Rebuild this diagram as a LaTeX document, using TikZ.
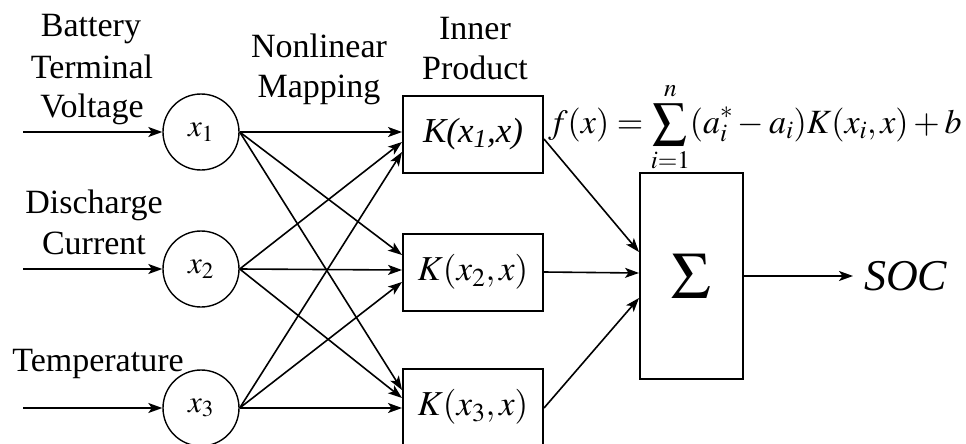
\documentclass[tikz,border=0pt]{standalone}
\usepackage{mathptmx}
\usepackage{fontspec}
\setmainfont{Liberation Serif}
\usetikzlibrary{arrows.meta,calc}
\begin{document}
\begin{tikzpicture}[x=1pt,y=-1pt,
  arr/.style={line width=1.6pt,-{Stealth[length=14pt,width=10pt,inset=3.5pt]}},
  neuron/.style={circle,draw,line width=1.4pt,minimum size=76pt,inner sep=0pt,font=\fontsize{31}{34}\selectfont},
  kbox/.style={draw,line width=2pt,minimum width=140pt,minimum height=77pt,inner sep=0pt,font=\fontsize{35}{40}\selectfont},
  sumbox/.style={draw,line width=2pt,minimum width=103pt,minimum height=206pt,inner sep=0pt,font=\fontsize{66}{70}\selectfont},
  lbl/.style={anchor=base,inner sep=0pt,font=\fontsize{34}{38}\selectfont}]
\useasboundingbox (0,0) rectangle (966,444);

% labels
\node[lbl] (l1) at (91,37) {Battery};
\node[lbl] (l2) at (92,78) {Terminal};
\node[lbl] (l3) at (92,117) {Voltage};
\node[lbl] (l4) at (94,213) {Discharge};
\node[lbl] (l5) at (94,254) {Current};
\node[lbl] (l6) at (98,371) {Temperature};
\node[lbl] (l7) at (319,57) {Nonlinear};
\node[lbl] (l8) at (319,97) {Mapping};
\node[lbl] (l9) at (475,40) {Inner};
\node[lbl] (l10) at (475,80) {Product};

% input neurons
\node[neuron] (x1) at (201,132) {$x_1$};
\node[neuron] (x2) at (201,269) {$x_2$};
\node[neuron] (x3) at (201,408) {$x_3$};

% kernel boxes
\node[kbox] (K1) at (473,134) {\itshape K(x\textsubscript{1},x)};
\node[kbox] (K2) at (473,272) {$K(x_2,x)$};
\node[kbox] (K3) at (473,407) {$K(x_3,x)$};

% summation box
\node[sumbox] (S) at (691.5,276) {$\Sigma$};

% output
\node[anchor=west,inner sep=0pt,font=\fontsize{44}{50}\selectfont\itshape] (soc) at (864,276) {SOC};

% formula
\node[anchor=base west,inner sep=0pt,font=\fontsize{34}{40}\selectfont] (f) at (548,133)
  {$\displaystyle f(x)=\sum_{i=1}^{n}(a_i^{*}-a_i)K(x_i,x)+b$};

% inputs
\coordinate (in1) at (23,132);
\coordinate (in2) at (23,269);
\coordinate (in3) at (23,408);
\draw[arr] (in1) -- (x1.west);
\draw[arr] (in2) -- (x2.west);
\draw[arr] (in3) -- (x3.west);

% nonlinear mapping
\draw[arr] (x1.east) -- ($(K1.west)+(0,-2)$);
\draw[arr] (x1.east) -- ($(K2.west)+(0,-17)$);
\draw[arr] (x1.east) -- ($(K3.west)+(0,-17)$);
\draw[arr] (x2.east) -- ($(K1.west)+(0,8)$);
\draw[arr] (x2.east) -- ($(K2.west)+(0,-2)$);
\draw[arr] (x2.east) -- ($(K3.west)+(0,-9)$);
\draw[arr] (x3.east) -- ($(K1.west)+(0,18)$);
\draw[arr] (x3.east) -- ($(K2.west)+(0,10)$);
\draw[arr] (x3.east) -- ($(K3.west)+(0,1)$);

% to summation
\draw[arr] ($(K1.east)+(0,5)$) -- ($(S.west)+(0,-24)$);
\draw[arr] (K2.east) -- ($(S.west)+(0,-3)$);
\draw[arr] ($(K3.east)+(0,1)$) -- ($(S.west)+(0,22)$);

% output arrow
\draw[arr] (S.east) -- ($(soc.west)+(-11,0)$);
\end{tikzpicture}
\end{document}
